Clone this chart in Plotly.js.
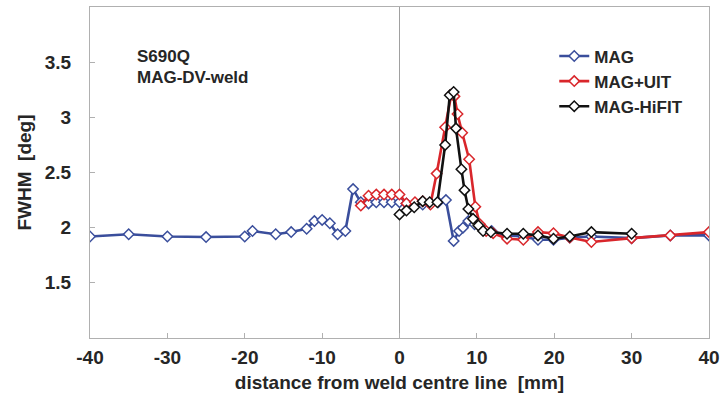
<!DOCTYPE html>
<html>
<head>
<meta charset="utf-8">
<script src="https://cdn.plot.ly/plotly-3.0.1.min.js"></script>
<style>html,body{margin:0;padding:0;background:#fff;}#chart{width:723px;height:401px;}</style>
</head>
<body>
<div id="chart"></div>
<script>
// MAG
const magX = [-40,-35,-30,-25,-20,-19,-16,-14,-12,-11,-10,-9,-8,-7,-6,-5,-4,-3,-2,-1,0,0.9,2,3,4,5,6,7,7.7,8.2,8.9,9.7,10.6,11.9,13.9,16,17.9,19.9,22,24.8,30,35,40];
const magY = [1.92,1.94,1.92,1.915,1.92,1.97,1.94,1.96,1.99,2.06,2.07,2.04,1.94,1.97,2.35,2.23,2.22,2.23,2.23,2.23,2.23,2.22,2.21,2.21,2.22,2.23,2.25,1.88,1.97,2.0,2.06,2.03,2.0,1.97,1.93,1.92,1.89,1.89,1.91,1.92,1.905,1.93,1.93];
// MAG+UIT
const uitX = [-5,-4,-3,-2,-1,0,0.9,2,3,4,4.8,5.9,6.7,7.1,7.5,8.1,9.0,9.8,10.4,11.2,12.1,13.9,16,17.9,19.9,22,24.8,30,35,40];
const uitY = [2.20,2.29,2.30,2.30,2.30,2.30,2.22,2.23,2.24,2.21,2.49,2.91,3.21,3.19,3.03,2.86,2.62,2.19,2.03,1.97,1.95,1.90,1.89,1.96,1.95,1.91,1.87,1.905,1.93,1.96];
// MAG-HiFIT
const hifitX = [0,0.9,1.9,3,3.9,4.9,5.9,6.5,7.0,7.3,8.0,8.4,8.9,9.5,10.2,10.8,11.8,13.9,16,17.9,19.9,22,24.8,30];
const hifitY = [2.12,2.155,2.185,2.24,2.23,2.23,2.75,3.20,3.23,2.90,2.53,2.34,2.17,2.08,2.02,1.97,1.96,1.945,1.945,1.93,1.90,1.92,1.96,1.945];

const seriesNames = ["MAG","MAG+UIT","MAG-HiFIT"];
const seriesColors = ["#3a4e9c","#d9262b","#111111"];
const xTicks = [-40,-30,-20,-10,0,10,20,30,40];
const yTicks = [1.5,2,2.5,3,3.5];
const yTickText = ["1.5","2","2.5","3","3.5"];

const FONT = "Liberation Sans, Arial, sans-serif";
const TXT = "#262626";
function tr(x,y,i){
  return {x:x,y:y,name:seriesNames[i],type:"scatter",mode:"lines+markers",
    line:{color:seriesColors[i],width:2.6},
    marker:{symbol:"diamond",size:8,color:"#ffffff",line:{color:seriesColors[i],width:1.5}}};
}
const traces = [tr(magX,magY,0),tr(uitX,uitY,1),tr(hifitX,hifitY,2)];

const layout = {
  width:723,height:401,
  margin:{l:90,r:14,t:7,b:63},
  paper_bgcolor:"#fff",plot_bgcolor:"#fff",
  font:{family:FONT,size:19,color:TXT},
  showlegend:true,
  legend:{x:0.75,y:0.905,xanchor:"left",yanchor:"top",bgcolor:"rgba(0,0,0,0)",
    font:{family:FONT,size:17,color:TXT,weight:"bold"},tracegroupgap:0},
  xaxis:{range:[-40,40],tickvals:xTicks,ticktext:xTicks.map(String),
    showline:true,linecolor:"#b0b0b0",linewidth:1,mirror:true,
    ticks:"inside",ticklen:5,tickcolor:"#b0b0b0",showgrid:false,
    zeroline:true,zerolinecolor:"#a0a0a0",zerolinewidth:1,
    ticklabelstandoff:2,
    tickfont:{family:FONT,size:19,color:TXT,weight:"bold"},
    title:{text:"distance from weld centre line  [mm]",font:{family:FONT,size:19,color:TXT,weight:"bold"},standoff:8}},
  yaxis:{range:[1,4],tickvals:yTicks,ticktext:yTickText,
    showline:true,linecolor:"#b0b0b0",linewidth:1,mirror:true,
    ticks:"inside",ticklen:5,tickcolor:"#b0b0b0",showgrid:false,zeroline:false,
    ticklabelstandoff:14,
    tickfont:{family:FONT,size:19,color:TXT,weight:"bold"},
    title:{text:"FWHM  [deg]",font:{family:FONT,size:19,color:TXT,weight:"bold"},standoff:8}},
  annotations:[
    {xref:"paper",yref:"paper",x:0.073,y:0.851,xanchor:"left",yanchor:"middle",showarrow:false,
     text:"S690Q",font:{family:FONT,size:17,color:TXT,weight:"bold"}},
    {xref:"paper",yref:"paper",x:0.073,y:0.787,xanchor:"left",yanchor:"middle",showarrow:false,
     text:"MAG-DV-weld",font:{family:FONT,size:17,color:TXT,weight:"bold"}}]
};
Plotly.newPlot("chart",traces,layout,{displayModeBar:false,staticPlot:true});
</script>
</body>
</html>
